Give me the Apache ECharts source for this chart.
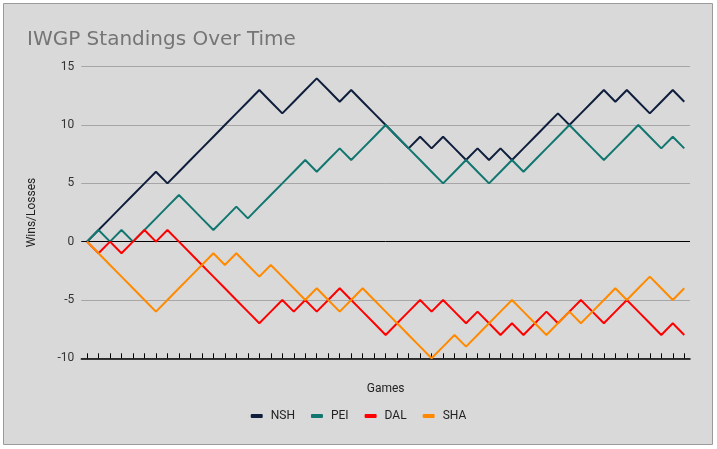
<!DOCTYPE html>
<html>
<head>
<meta charset="utf-8">
<script src="https://cdn.jsdelivr.net/npm/echarts@6/dist/echarts.min.js"></script>
<style>
html,body{margin:0;padding:0;background:#fff;}
#c{width:717px;height:449px;}
</style>
</head>
<body>
<div id="c"></div>
<script>
const games = Array.from({length: 53}, (_, i) => String(i));
const NSH = [0,1,2,3,4,5,6,5,6,7,8,9,10,11,12,13,12,11,12,13,14,13,12,13,12,11,10,9,8,9,8,9,8,7,8,7,8,7,8,9,10,11,10,11,12,13,12,13,12,11,12,13,12];
const PEI = [0,1,0,1,0,1,2,3,4,3,2,1,2,3,2,3,4,5,6,7,6,7,8,7,8,9,10,9,8,7,6,5,6,7,6,5,6,7,6,7,8,9,10,9,8,7,8,9,10,9,8,9,8];
const DAL = [0,-1,0,-1,0,1,0,1,0,-1,-2,-3,-4,-5,-6,-7,-6,-5,-6,-5,-6,-5,-4,-5,-6,-7,-8,-7,-6,-5,-6,-5,-6,-7,-6,-7,-8,-7,-8,-7,-6,-7,-6,-5,-6,-7,-6,-5,-6,-7,-8,-7,-8];
const SHA = [0,-1,-2,-3,-4,-5,-6,-5,-4,-3,-2,-1,-2,-1,-2,-3,-2,-3,-4,-5,-4,-5,-6,-5,-4,-5,-6,-7,-8,-9,-10,-9,-8,-9,-8,-7,-6,-5,-6,-7,-8,-7,-6,-7,-6,-5,-4,-5,-4,-3,-4,-5,-4];
const seriesNames = ['NSH','PEI','DAL','SHA'];
const seriesData = [NSH, PEI, DAL, SHA];
const colors = ['#0f1e3c','#11766f','#ff0000','#ff8a00'];

const chart = echarts.init(document.getElementById('c'), null, {renderer: 'canvas'});
chart.setOption({
  backgroundColor: '#ffffff',
  animation: false,
  color: colors,
  graphic: [{
    type: 'rect', z: -10, silent: true,
    shape: {x: 3.5, y: 3.5, width: 709, height: 441},
    style: {fill: '#d9d9d9', stroke: '#9a9a9a', lineWidth: 1}
  }],
  title: {
    text: 'IWGP Standings Over Time',
    left: 22, top: 25,
    textStyle: {fontFamily: 'DejaVu Sans', fontSize: 20, fontWeight: 'normal', color: '#757575'}
  },
  legend: {
    data: seriesNames,
    top: 405, left: 'center',
    icon: 'roundRect',
    itemWidth: 12, itemHeight: 4,
    itemGap: 16,
    textStyle: {fontFamily: 'Roboto', fontSize: 12, color: '#222', padding: [0,0,0,3]}
  },
  grid: {left: 81.3, right: 27, top: 66.7, bottom: 90.7, containLabel: false},
  xAxis: {
    type: 'category',
    data: games,
    boundaryGap: true,
    name: 'Games',
    nameLocation: 'middle',
    nameGap: 25,
    nameTextStyle: {fontFamily: 'Roboto', fontSize: 12, color: '#222'},
    axisLine: {onZero: false, lineStyle: {color: '#000', width: 1.5}},
    axisTick: {show: true, inside: true, length: 5, alignWithLabel: true, interval: 0, lineStyle: {color: '#000', width: 1}},
    axisLabel: {show: false},
    splitLine: {show: false}
  },
  yAxis: {
    type: 'value',
    min: -10, max: 15, interval: 5,
    name: 'Wins/Losses',
    nameLocation: 'middle',
    nameGap: 43,
    nameTextStyle: {fontFamily: 'Roboto', fontSize: 12, color: '#222'},
    axisLine: {show: false},
    axisTick: {show: false},
    axisLabel: {fontFamily: 'Roboto', fontSize: 12, color: '#333', margin: 7},
    splitLine: {show: true, lineStyle: {color: ['#a6a6a6','#a6a6a6','#000000','#a6a6a6','#a6a6a6','#a6a6a6'], width: 1}}
  },
  series: seriesNames.map((n, i) => ({
    name: n,
    type: 'line',
    data: seriesData[i],
    showSymbol: false,
    symbol: 'none',
    lineStyle: {width: 2, color: colors[i]},
    itemStyle: {color: colors[i]}
  }))
});
</script>
</body>
</html>
